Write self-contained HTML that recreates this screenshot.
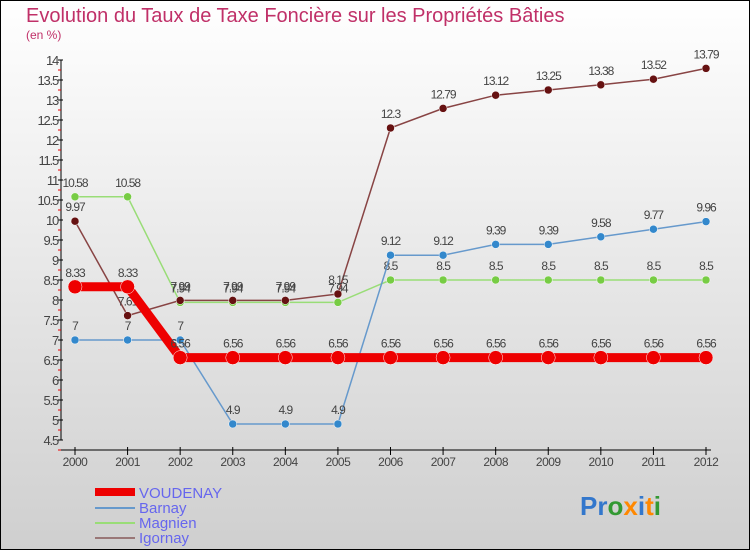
<!DOCTYPE html>
<html><head><meta charset="utf-8"><style>
body{margin:0;}
svg{display:block;font-family:"Liberation Sans",sans-serif;}
</style></head><body>
<svg id="chart" width="750" height="550">
<defs><linearGradient id="bg" x1="0" y1="0" x2="0" y2="1"><stop offset="0" stop-color="#ffffff"/><stop offset="1" stop-color="#cfcfcf"/></linearGradient></defs>
<rect x="0.5" y="0.5" width="749" height="549" fill="url(#bg)" stroke="#000"/>
<text x="26" y="22" font-size="20" fill="#c03068">Evolution du Taux de Taxe Foncière sur les Propriétés Bâties</text>
<text x="26" y="39" font-size="12" fill="#c03068">(en %)</text>
<g id="axes"></g><g id="series"></g>
<g>
<rect x="95" y="488" width="40" height="8" fill="#ee0000"/>
<text x="139" y="498" font-size="15" fill="#6666ee">VOUDENAY</text>
<line x1="95" x2="135" y1="508" y2="508" stroke="#6699cc" stroke-width="2"/>
<text x="139" y="513" font-size="15" fill="#6666ee">Barnay</text>
<line x1="95" x2="135" y1="523" y2="523" stroke="#99dd77" stroke-width="2"/>
<text x="139" y="528" font-size="15" fill="#6666ee">Magnien</text>
<line x1="95" x2="135" y1="538" y2="538" stroke="#997777" stroke-width="2"/>
<text x="139" y="543" font-size="15" fill="#6666ee">Igornay</text>
</g>
<g font-size="26" font-weight="bold">
<text x="580" y="515"><tspan fill="#3377cc">Pr</tspan><tspan fill="#339933">o</tspan><tspan fill="#ff8800">x</tspan><tspan fill="#3377cc">i</tspan><tspan fill="#ff8800">t</tspan><tspan fill="#339933">i</tspan></text>
</g>
</svg>
<script>
const years=["2000","2001","2002","2003","2004","2005","2006","2007","2008","2009","2010","2011","2012"];
const voudenay=[8.33,8.33,6.56,6.56,6.56,6.56,6.56,6.56,6.56,6.56,6.56,6.56,6.56];
const barnay=[7,7,7,4.9,4.9,4.9,9.12,9.12,9.39,9.39,9.58,9.77,9.96];
const magnien=[10.58,10.58,7.94,7.94,7.94,7.94,8.5,8.5,8.5,8.5,8.5,8.5,8.5];
const igornay=[9.97,7.61,7.99,7.99,7.99,8.15,12.3,12.79,13.12,13.25,13.38,13.52,13.79];
const yTicks=[4.5,5,5.5,6,6.5,7,7.5,8,8.5,9,9.5,10,10.5,11,11.5,12,12.5,13,13.5,14];
const NS="http://www.w3.org/2000/svg";
const X=i=>75+i*(706-75)/12;
const Y=v=>60+(14-v)*40;
function mk(t,a,p){const e=document.createElementNS(NS,t);for(const k in a)e.setAttribute(k,a[k]);p.appendChild(e);return e;}
const ax=document.getElementById('axes');
let l=mk('line',{x1:61,x2:61,y1:Y(14),y2:Y(4.5),stroke:'#000'},ax);


l=mk('line',{x1:61,x2:X(12)+5,y1:450,y2:450,stroke:'#000'},ax);


yTicks.forEach(v=>{
 mk('line',{x1:58,x2:63,y1:Y(v),y2:Y(v),stroke:'#000'},ax);
 mk('line',{x1:58,x2:61,y1:Y(v)+10,y2:Y(v)+10,stroke:'#e00'},ax);
 const t=mk('text',{x:58,y:Y(v)+5,'text-anchor':'end','font-size':13,fill:'#444','letter-spacing':'-1.2'},ax);
 t.textContent=String(v);
 
 
});
years.forEach((y,i)=>{
 mk('line',{x1:X(i),x2:X(i),y1:447,y2:455,stroke:'#000'},ax);
 const t=mk('text',{x:X(i),y:466,'text-anchor':'middle','font-size':12,fill:'#444','letter-spacing':'-0.5'},ax);
 t.textContent=y;
 
 
});
const sg=document.getElementById('series');
function draw(name,data,color,w,r,dot){
 const g=mk('g',{},sg);
 
 
 const p=mk('polyline',{points:data.map((v,i)=>X(i)+','+Y(v)).join(' '),fill:'none',stroke:color,'stroke-width':w},g);
 
 
 data.forEach((v,i)=>{
  const c=mk('circle',{cx:X(i),cy:Y(v),r:r,fill:dot,stroke:'#fff','stroke-width':0.5},g);
  
  
  const t=mk('text',{x:X(i),y:Y(v)-10,'text-anchor':'middle','font-size':12,fill:'#444','letter-spacing':'-1'},g);
  t.textContent=String(v);
  
  
 });
}
draw('magnien',magnien,'#99dd77',1.5,4,'#77cc44');
draw('barnay',barnay,'#6699cc',1.5,4,'#3388cc');
draw('igornay',igornay,'#884444',1.5,4,'#661111');
draw('voudenay',voudenay,'#ee0000',9,7,'#ee0000');
</script>
</body></html>
